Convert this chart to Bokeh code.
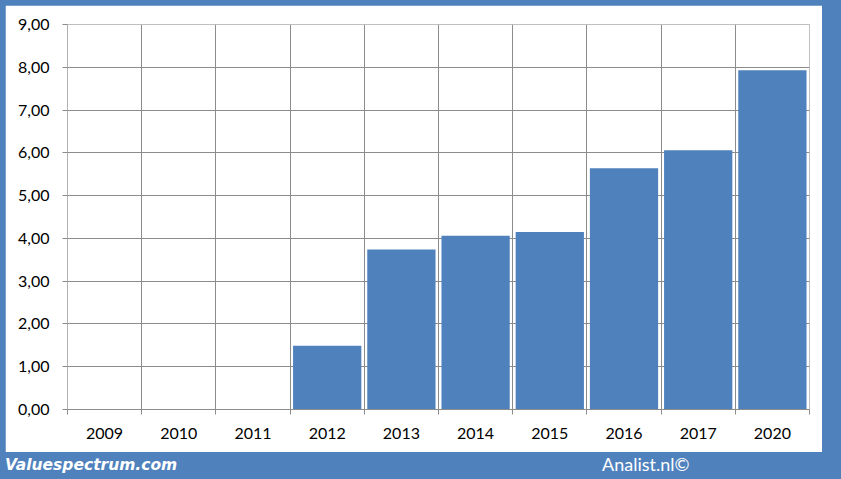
from bokeh.plotting import figure
from bokeh.models import Range1d, FixedTicker, Div, Spacer
from bokeh.layouts import column, row
from bokeh.embed import file_html
from bokeh.resources import INLINE

# ---- data ----
years = ["2009", "2010", "2011", "2012", "2013", "2014", "2015", "2016", "2017", "2020"]
values = [None, None, None, 1.49, 3.74, 4.06, 4.15, 5.64, 6.06, 7.93]
y_ticks = [0, 1, 2, 3, 4, 5, 6, 7, 8, 9]
y_labels = ["0,00", "1,00", "2,00", "3,00", "4,00", "5,00", "6,00", "7,00", "8,00", "9,00"]
footer_left = "Valuespectrum.com"
footer_right = "Analist.nl\u00a9"

BLUE = "#4F81BD"
GRID = "#8C8C8C"
FONT = "Lato"

n = len(years)
centers = [i + 0.5 for i in range(n)]
bounds = list(range(n + 1))

p = figure(width=817, height=447, output_backend="svg", toolbar_location=None,
           x_range=Range1d(0, n), y_range=Range1d(0, 9),
           min_border_left=62, min_border_right=13, min_border_top=19, min_border_bottom=43)
p.background_fill_color = "white"
p.border_fill_color = "white"
p.outline_line_color = "#BFBFBF"
p.outline_line_width = 1

xs = [c for c, v in zip(centers, values) if v is not None]
tops = [v for v in values if v is not None]
p.vbar(x=xs, top=tops, width=0.92, bottom=0, fill_color=BLUE, line_color=None)

# x axis
p.xaxis.ticker = FixedTicker(ticks=centers, minor_ticks=bounds)
p.xaxis.major_label_overrides = {c: y for c, y in zip(centers, years)}
p.xaxis.major_tick_out = 0
p.xaxis.major_tick_in = 0
p.xaxis.minor_tick_out = 5
p.xaxis.minor_tick_in = 0
p.xaxis.minor_tick_line_color = GRID
p.xaxis.axis_line_color = GRID
p.xaxis.major_label_text_font = FONT
p.xaxis.major_label_text_font_size = "16px"
p.xaxis.major_label_text_color = "black"
p.xaxis.major_label_standoff = 13

# y axis
p.yaxis.ticker = FixedTicker(ticks=y_ticks, minor_ticks=[])
p.yaxis.major_label_overrides = {t: l for t, l in zip(y_ticks, y_labels)}
p.yaxis.major_tick_out = 5
p.yaxis.major_tick_in = 0
p.yaxis.major_tick_line_color = GRID
p.yaxis.axis_line_color = "#B0B0B0"
p.yaxis.major_label_text_font = FONT
p.yaxis.major_label_text_font_size = "16px"
p.yaxis.major_label_text_color = "black"
p.yaxis.major_label_standoff = 13

# grids
p.xgrid.ticker = FixedTicker(ticks=bounds)
p.xgrid.grid_line_color = GRID
p.ygrid.ticker = FixedTicker(ticks=y_ticks)
p.ygrid.grid_line_color = GRID

footer_html = (
    '<div style="position:relative;width:841px;height:27px;overflow:hidden;">'
    '<span style="position:absolute;left:5px;top:0px;font-family:\'DejaVu Sans\';'
    'font-weight:bold;font-style:italic;font-size:15.5px;color:white;line-height:27px;white-space:nowrap;">'
    + footer_left + '</span>'
    '<span style="position:absolute;left:602px;top:-1px;font-family:Lato;'
    'font-size:18px;color:white;line-height:27px;white-space:nowrap;">' + footer_right + '</span>'
    '</div>'
)
footer = Div(text=footer_html, width=841, height=27,
             styles={"background-color": BLUE, "margin": "0", "padding": "0"})

top_strip = Spacer(width=841, height=5, styles={"background-color": BLUE})
left_strip = Spacer(width=5, height=447, styles={"background-color": BLUE})
right_strip = Spacer(width=19, height=447, styles={"background-color": BLUE})
mid_row = row(left_strip, p, right_strip, spacing=0)
layout = column(top_strip, mid_row, footer, spacing=0, styles={"background-color": BLUE})

open("out.html", "w").write(file_html(layout, INLINE))
